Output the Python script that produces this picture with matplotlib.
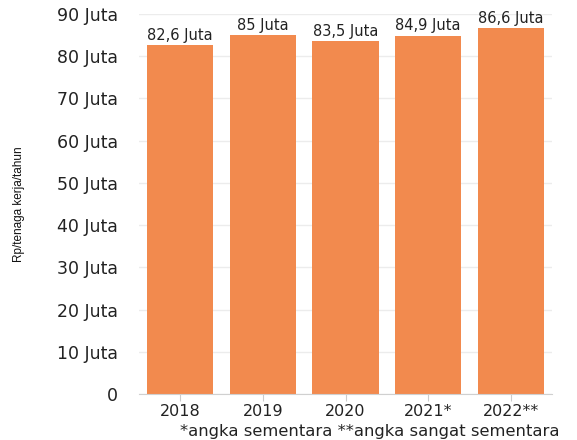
import matplotlib
matplotlib.use("Agg")
import matplotlib.pyplot as plt

categories = ["2018", "2019", "2020", "2021*", "2022**"]
values = [82.6, 85.0, 83.5, 84.9, 86.6]
value_labels = ["82,6 Juta", "85 Juta", "83,5 Juta", "84,9 Juta", "86,6 Juta"]
yticks = [0, 10, 20, 30, 40, 50, 60, 70, 80, 90]
ytick_labels = ["0", "10 Juta", "20 Juta", "30 Juta", "40 Juta", "50 Juta",
                "60 Juta", "70 Juta", "80 Juta", "90 Juta"]
ylabel = "Rp/tenaga kerja/tahun"
footnote = "*angka sementara **angka sangat sementara"

W, H = 577, 440
fig = plt.figure(figsize=(W / 100, H / 100), dpi=100)
left, right, bottom, top = 139, 552, 394, 14
ax = fig.add_axes([left / W, 1 - bottom / H, (right - left) / W, (bottom - top) / H])

x = list(range(len(categories)))
ax.bar(x, values, width=0.8, color="#F28A4E", zorder=2)
for xi, v, lab in zip(x, values, value_labels):
    ax.text(xi, v + 0.6, lab, ha="center", va="bottom", fontsize=10.5,
            family="DejaVu Sans", color="#222222")

ax.set_xlim(-0.5, 4.5)
ax.set_ylim(0, 90)
ax.set_yticks(yticks)
ax.set_yticklabels(ytick_labels, fontsize=12.5, family="DejaVu Sans", color="#222222")
ax.set_xticks(x)
ax.set_xticklabels(categories, fontsize=11.5, family="DejaVu Sans", color="#222222")
ax.tick_params(axis="y", length=0, pad=15)
ax.tick_params(axis="x", length=5, color="#cccccc", pad=2)
ax.grid(axis="y", color="#ececec", linewidth=1, zorder=0)
for s in ["top", "right", "left"]:
    ax.spines[s].set_visible(False)
ax.spines["bottom"].set_color("#d0d0d0")

fig.text(19 / W, 1 - 204 / H, ylabel, rotation=90, ha="center", va="center",
         fontsize=8.5, family=["Liberation Sans", "DejaVu Sans"],
         color="#111111")
fig.text(370 / W, 1 - 431 / H, footnote, ha="center", va="center", fontsize=11.8,
         family="DejaVu Sans", color="#222222")

fig.savefig("out.png", dpi=100)
